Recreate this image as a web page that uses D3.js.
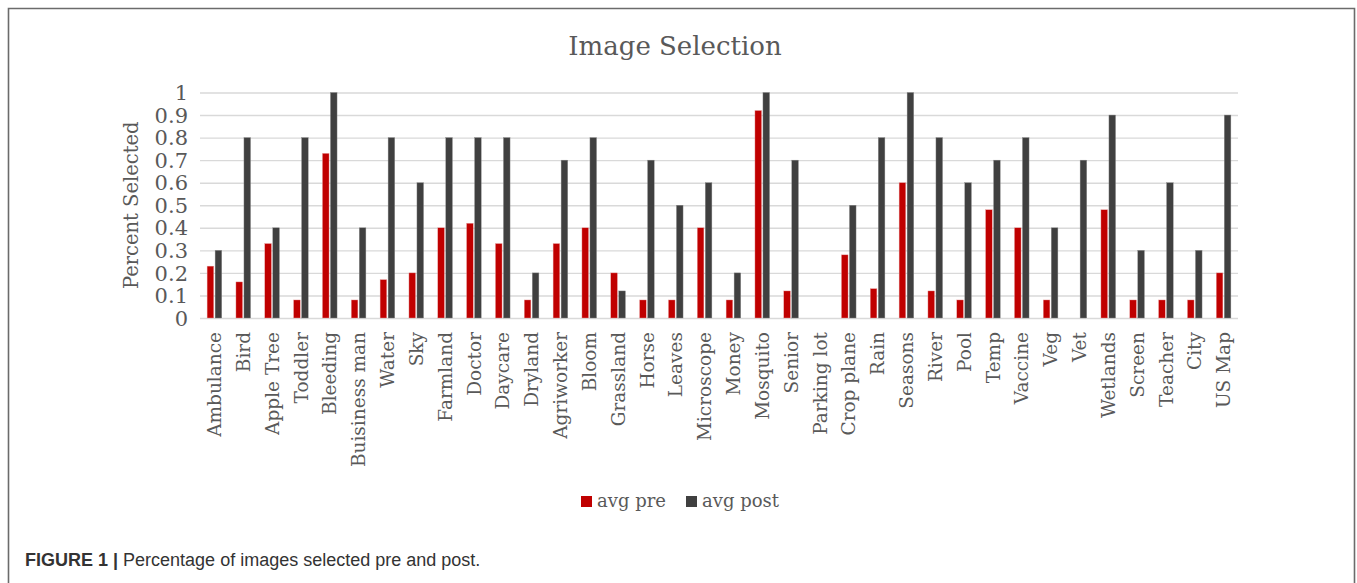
<!DOCTYPE html>
<html>
<head>
<meta charset="utf-8">
<script src="https://cdn.jsdelivr.net/npm/d3@7/dist/d3.min.js"></script>
<style>
  html, body { margin: 0; padding: 0; background: #fff; }
  svg { display: block; }
</style>
</head>
<body>
<svg id="chart" width="1357" height="583"></svg>
<script>
// Image names shown on the x axis
const categories = [
  "Ambulance", "Bird", "Apple Tree", "Toddler", "Bleeding", "Buisiness man",
  "Water", "Sky", "Farmland", "Doctor", "Daycare", "Dryland",
  "Agriworker", "Bloom", "Grassland", "Horse", "Leaves", "Microscope",
  "Money", "Mosquito", "Senior", "Parking lot", "Crop plane", "Rain",
  "Seasons", "River", "Pool", "Temp", "Vaccine", "Veg",
  "Vet", "Wetlands", "Screen", "Teacher", "City", "US Map"
];

// Share of participants selecting each image before the activity
const avgPre = [
  0.23, 0.16, 0.33, 0.08, 0.73, 0.08,
  0.17, 0.20, 0.40, 0.42, 0.33, 0.08,
  0.33, 0.40, 0.20, 0.08, 0.08, 0.40,
  0.08, 0.92, 0.12, 0.00, 0.28, 0.13,
  0.60, 0.12, 0.08, 0.48, 0.40, 0.08,
  0.00, 0.48, 0.08, 0.08, 0.08, 0.20
];

// Share of participants selecting each image after the activity
const avgPost = [
  0.30, 0.80, 0.40, 0.80, 1.00, 0.40,
  0.80, 0.60, 0.80, 0.80, 0.80, 0.20,
  0.70, 0.80, 0.12, 0.70, 0.50, 0.60,
  0.20, 1.00, 0.70, 0.00, 0.50, 0.80,
  1.00, 0.80, 0.60, 0.70, 0.80, 0.40,
  0.70, 0.90, 0.30, 0.60, 0.30, 0.90
];

const yTicks = [0, 0.1, 0.2, 0.3, 0.4, 0.5, 0.6, 0.7, 0.8, 0.9, 1];

const seriesNames = ["avg pre", "avg post"];
const seriesColors = ["#C00000", "#404040"];

const svg = d3.select("#chart");
const W = 1357, H = 583;
const serif = "'DejaVu Serif', serif";
const textColor = "#595959";

// Outer figure frame
svg.append("path")
  .attr("d", `M8.5,${H + 2} V8.5 H1354.5 V${H + 2}`)
  .attr("fill", "none")
  .attr("stroke", "#6b6b6b")
  .attr("stroke-width", 1.6);

const plot = { left: 200, right: 1238, top: 92.5, bottom: 318 };

const x = d3.scaleBand()
  .domain(categories)
  .range([plot.left, plot.right])
  .padding(0);

const y = d3.scaleLinear()
  .domain([0, 1])
  .range([plot.bottom, plot.top]);

// Horizontal gridlines
const grid = svg.append("g")
  .attr("transform", `translate(${plot.left},0)`)
  .call(d3.axisLeft(y).tickValues(yTicks).tickSize(-(plot.right - plot.left)).tickFormat(""));
grid.select(".domain").remove();
grid.selectAll(".tick line")
  .attr("stroke", "#d9d9d9")
  .attr("stroke-width", 1.4);

// Y axis tick labels
const yAxis = svg.append("g")
  .attr("transform", `translate(${plot.left},0)`)
  .call(d3.axisLeft(y).tickValues(yTicks).tickSize(0).tickPadding(12).tickFormat(d3.format("")));
yAxis.select(".domain").remove();
yAxis.selectAll(".tick text")
  .attr("font-family", serif)
  .attr("font-size", 21)
  .attr("fill", textColor)
  .attr("dy", "0.34em");

// Grouped bars
const barW = 6.6, gap = 0.7;
const groups = svg.append("g");
categories.forEach((c, i) => {
  const cx = x(c) + x.bandwidth() / 2;
  [avgPre[i], avgPost[i]].forEach((v, s) => {
    if (v <= 0) return;
    const bx = s === 0 ? cx - gap - barW : cx + gap;
    groups.append("rect")
      .attr("x", bx)
      .attr("y", y(v))
      .attr("width", barW)
      .attr("height", y(0) - y(v))
      .attr("fill", seriesColors[s])
      .attr("stroke", s === 0 ? "#e8a0a0" : "#8a8a8a")
      .attr("stroke-width", 0.4);
  });
});

// X axis category labels, rotated
const xAxis = svg.append("g")
  .attr("transform", `translate(0,${plot.bottom})`)
  .call(d3.axisBottom(x).tickSize(0).tickPadding(0));
xAxis.select(".domain").remove();
xAxis.selectAll(".tick text")
  .attr("font-family", serif)
  .attr("font-size", 18.5)
  .attr("fill", textColor)
  .attr("text-anchor", "end")
  .attr("transform", "rotate(-90)")
  .attr("x", -14)
  .attr("y", 0)
  .attr("dy", "0.36em");

// Y axis title
svg.append("text")
  .attr("transform", `translate(138,${(plot.top + plot.bottom) / 2}) rotate(-90)`)
  .attr("text-anchor", "middle")
  .attr("font-family", serif)
  .attr("font-size", 19.5)
  .attr("fill", textColor)
  .text("Percent Selected");

// Chart title
svg.append("text")
  .attr("x", 675)
  .attr("y", 55)
  .attr("text-anchor", "middle")
  .attr("font-family", serif)
  .attr("font-size", 26)
  .attr("fill", textColor)
  .text("Image Selection");

// Legend
const legend = svg.append("g");
const legendX = [581, 686];
seriesNames.forEach((name, s) => {
  legend.append("rect")
    .attr("x", legendX[s])
    .attr("y", 496)
    .attr("width", 11)
    .attr("height", 11)
    .attr("fill", seriesColors[s]);
  legend.append("text")
    .attr("x", legendX[s] + 16)
    .attr("y", 507)
    .attr("font-family", serif)
    .attr("font-size", 18)
    .attr("fill", textColor)
    .text(name);
});

// Figure caption
const cap = svg.append("text")
  .attr("x", 25)
  .attr("y", 566)
  .attr("font-family", "'Liberation Sans', Arial, sans-serif")
  .attr("font-size", 18)
  .attr("fill", "#333");
cap.append("tspan").attr("font-weight", "bold").text("FIGURE 1 | ");
cap.append("tspan").text("Percentage of images selected pre and post.");
</script>
</body>
</html>
